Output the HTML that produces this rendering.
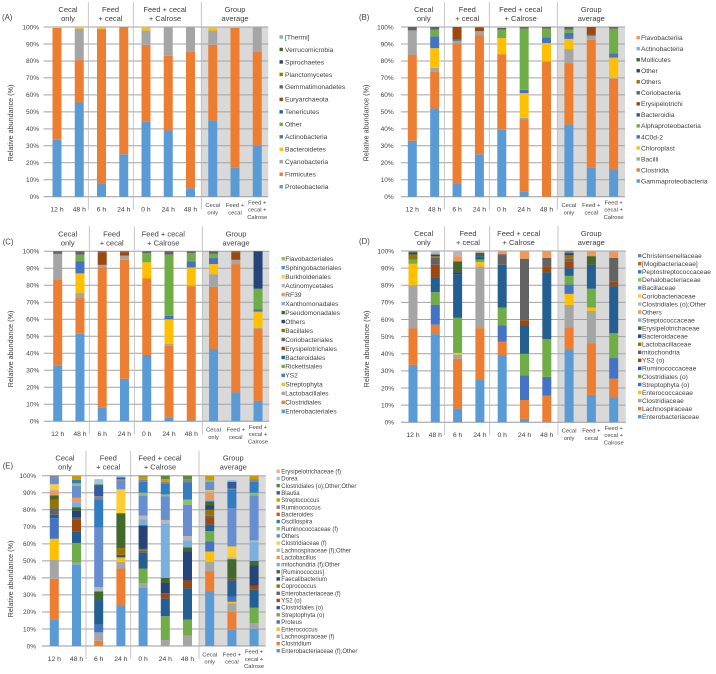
<!DOCTYPE html>
<html lang="en">
<head>
<meta charset="utf-8">
<title>Relative abundance stacked bar charts</title>
<style>
html,body{margin:0;padding:0;background:#fff;width:716px;height:674px;overflow:hidden}
svg{display:block;filter:blur(0.3px)}
text{font-family:"Liberation Sans",sans-serif;fill:#3f3f3f}
</style>
</head>
<body>
<svg id="fig" width="716" height="674" viewBox="0 0 716 674"></svg>
<script>
// ---------- shared data ----------
const categories = ["12 h","48 h","6 h","24 h","0 h","24 h","48 h"];
const avgCategories = [["Cecal","only"],["Feed +","cecal"],["Feed +","cecal +","Calrose"]];
const groupHeaders = [["Cecal","only"],["Feed","+ cecal"],["Feed + cecal","+ Calrose"],["Group","average"]];
const yTicks = [0,10,20,30,40,50,60,70,80,90,100];
const palette = ["#5B9BD5","#ED7D31","#A5A5A5","#FFC000","#4472C4","#70AD47","#255E91","#9E480E","#636363","#997300","#264478","#43682B","#7CAFDD","#F1975A","#B7B7B7","#FFCD33","#698ED0","#8CC168","#327DC2","#D26012","#848484","#CC9A00","#335AA1","#5A8A39","#A2C4E4","#F4B183"];

// ---------- panel A ----------
const seriesA = ["Proteobacteria","Firmicutes","Cyanobacteria","Bacteroidetes","Actinobacteria","Other","Tenericutes","Euryarchaeota","Gemmatimonadetes","Planctomycetes","Spirochaetes","Verrucomicrobia","[Thermi]"];
const barsA = [
 [33.5,66,0,0.5],
 [55.5,25,18.5,1],
 [8,90.5,0.5,1],
 [25,75],
 [44.5,45,8.5,2],
 [39,44,17],
 [5,80.5,14.5],
 [45,44.5,8.5,2],
 [17,82.5,0,0.5],
 [30,55.5,14.5]
];

// ---------- panel B ----------
const seriesB = ["Gammaproteobacteria","Clostridia","Bacilli","Chloroplast","4C0d-2","Alphaproteobacteria","Bacteroidia","Erysipelotrichi","Coriobacteria","Others","Other","Mollicutes","Actinobacteria","Flavobacteriia"];
const barsB = [
 [33,50.5,14.5,0,0,0,0,0,2],
 [52,21.5,2.5,11.5,7,4,0,0,1.5],
 [8,82.5,1.5,0,0,0,0.5,7.5],
 [25,70,2.5,0,0,0,0,2,0.5],
 [39.5,44.5,0,9.5,0,5,0,0,1],
 [3,42.5,1,14.5,2,36,0,0,1],
 [0,79.5,0.5,10.5,3.5,5,0,0,1],
 [42.5,36,8.5,6,3.5,2,0,0,1.5],
 [17,75.5,2.5,0,0,0,0.5,4.5],
 [16,53.5,0.5,12,2.5,14.5,0,0,1]
];

// ---------- panel C ----------
const seriesC = ["Enterobacteriales","Clostridiales","Lactobacillales","Streptophyta","YS2","Rickettsiales","Bacteroidales","Erysipelotrichales","Coriobacteriales","Bacillales","Others","Pseudomonadales","Xanthomonadales","RF39","Actinomycetales","Burkholderiales","Sphingobacteriales","Flavobacteriales"];
const barsC = [
 [33,50.5,15,0,0,0,0,0,1.5],
 [51.5,21,3,11.5,7,4,0,0,2],
 [8,82.5,1.5,0,0,0,0,7.5,0.5],
 [25,70,2.5,0,0,0,0,2,0.5],
 [39,45,0,9.5,0,5.5,0,0,1],
 [2,42.5,1,14.5,2,36,0,0,2],
 [0.5,79,0.5,10.5,3.5,5,0,0,1],
 [42.5,36.5,7.5,6,3.5,2.5,0,0,1.5],
 [17,75.5,2.5,0,0,0,0,4.5,0.5],
 [12,42.5,0.5,9.5,1.5,12,0,0,0,0,22]
];

// ---------- panel D ----------
const seriesD = ["Enterobacteriaceae","Lachnospiraceae","Clostridiaceae","Enterococcaceae","Streptophyta (o)","Clostridiales (o)","Ruminococcaceae","YS2 (o)","mitochondria","Lactobacillaceae","Bacteroidaceae","Erysipelotrichaceae","Streptococcaceae","Others","Clostridiales (o);Other","Coriobacteriaceae","Bacillaceae","Dehalobacteriaceae","Peptostreptococcaceae","[Mogibacteriaceae]","Christensenellaceae"];
const barsD = [
 [33.5,21.5,25,12.5,0,2.5,0,0,0,3,1,0.5,0,0,0,0,0,0,0,0,0.5],
 [51.5,5.5,0,0,11.5,7.5,8.5,7.5,4,1,1,0,0,0,2],
 [8,29,2.5,1,0,20.5,25.5,0,0,0,1,6.5,0,3,3],
 [25,30,36,2.5,0,1.5,2,0,0,0,0,2,0,0,1],
 [39,8,0,0,9.5,10.5,25,0,5.5,0,0.5,0,0,2],
 [2,11,0,0,14.5,12.5,16.5,3,36,0,0,0,0,4.5],
 [0.5,15,0,0,11,22,39,3.5,5,0,0,0,0,4],
 [42.5,13,13,6.5,5.5,5,4.5,4,1.5,2,1,0.5,0,0,0,0,0,0,0,0,1],
 [16,30,19,2,0,11,13.5,0,0,0,0.5,5,0,3],
 [14.5,11,0,0,12,14.5,27.5,2.5,14,0,0,0,0,4]
];

// ---------- panel E ----------
const seriesE = ["Enterobacteriaceae (f);Other","Clostridium","Lachnospiraceae (f)","Enterococcus","Proteus","Streptophyta (o)","Clostridiales (o)","YS2 (o)","Enterobacteriaceae (f)","Coprococcus","Faecalibacterium","[Ruminococcus]","mitochondria (f);Other","Lactobacillus","Lachnospiraceae (f);Other","Clostridiaceae (f)","Others","Ruminococcaceae (f)","Oscillospira","Bacteroides","Ruminococcus","Streptococcus","Blautia","Clostridiales (o);Other;Other","Dorea","Erysipelotrichaceae (f)"];
const barsE = [
 [15.5,24,11,12.5,12,0,2,0,4,5,0,2.5,0,2.5,1,3,4,0,0,0,1],
 [48,0,1,0,0,11.5,6.5,7.5,1,0,4,2,3,2.5,0,0,7,1.5,2,0,0,2.5],
 [0,3,5,0,4.5,0,14.5,0,0,0,0,5,0,0,2.5,0,35,0,16.5,0,2,0,6.5,0.5,3],
 [23.5,22,4,2.5,0,0,1.5,0,0,4,0,20.5,0,0,0,14,5,0,0,0,1,0,1,0,1],
 [34.5,0,2.5,0,0,8.5,9.5,0,1,1,13.5,0.5,3.5,0,2,0,12,1.5,6.5,0,1,2,0,0.5],
 [0,0,3.5,0,0,14,10.5,3,0,0,6,3,32,0,2,0,14,1,6.5,0,1,1.5,0,2],
 [0,0,6,0,0,9.5,18.5,4.5,0,0,17,2.5,4,0,2.5,0,18.5,3,10,0,2,0,0,2],
 [32,12,5.5,6,6,6,4,4,1,3.5,2.5,2.5,1,4,1,0.5,5,1,0,0,0,2.5],
 [9.5,10.5,5,1,3,0,9.5,1,0,0,0,11.5,0,0,1,6.5,22.5,0,11,0,0.5,0,4,0,1],
 [10,0,3.5,0,0,9,10.5,2.5,0,0,12,2.5,11,0,1,0,26.5,1.5,6.5,0,1.5,2]
];

// ---------- layout (geometry only) ----------
const panels = [
 {id:"a",label:"(A)",labelX:2,series:seriesA,bars:barsA,first:57,step:22.25,yTop:27,yBot:196.7,gridL:43.5,gridR:268.3,seps:[88.3,133.3,201.3],heads:[68,110.5,165,235],titleX:10.3,titleY:123,tickX:39,swatchX:279.5,textX:285,legTop:37,legBot:186.7,legFont:6.7},
 {id:"b",label:"(B)",labelX:359,series:seriesB,bars:barsB,first:412.3,step:22.37,yTop:27,yBot:196.7,gridL:401,gridR:625,seps:[444.3,489.3,557.3],heads:[423.7,467.3,520.7,591.3],titleX:366,titleY:123,tickX:393.7,swatchX:636.5,textX:641,legTop:37.7,legBot:181,legFont:6.7},
 {id:"c",label:"(C)",labelX:2.7,series:seriesC,bars:barsC,first:57.7,step:22.26,yTop:251.3,yBot:421.3,gridL:44,gridR:269.3,seps:[89.3,134.3,202.3],heads:[67.7,111.7,163.3,236],titleX:10.7,titleY:349,tickX:39.3,swatchX:281.5,textX:285.3,legTop:258.7,legBot:411.3,legFont:6.6},
 {id:"d",label:"(D)",labelX:359,series:seriesD,bars:barsD,first:413,step:22.3,yTop:251,yBot:422.3,gridL:401,gridR:625.7,seps:[444.7,489.7,558],heads:[423.7,468,518.7,591.3],titleX:366.3,titleY:349,tickX:394,swatchX:638,textX:642,legTop:255.7,legBot:416.7,legFont:6.6},
 {id:"e",label:"(E)",labelX:2.7,series:seriesE,bars:barsE,first:54.3,step:22.2,yTop:475.7,yBot:646,gridL:42,gridR:265.7,seps:[86,130.7,199],heads:[65,108.3,160,233.3],titleX:10.7,titleY:579,tickX:36,swatchX:276.5,textX:281.3,legTop:471.3,legBot:650.7,legFont:6}
];

const NS = "http://www.w3.org/2000/svg";
const svg = document.getElementById("fig");
function mk(tag, attrs, parent, txt){
  const n = document.createElementNS(NS, tag);
  for(const k in attrs) n.setAttribute(k, attrs[k]);
  if(txt !== undefined) n.textContent = txt;
  parent.appendChild(n);
  return n;
}
function slug(s){return String(s).toLowerCase().replace(/[^a-z0-9]+/g,"-").replace(/^-|-$/g,"");}

panels.forEach(function(p){
  const g = mk("g",{},svg);
  
  

  const yScale = function(v){return p.yBot - (p.yBot - p.yTop) * v / 100;};
  const xScale = function(i){return p.first + p.step * i;};
  const barW = 9;

  // group average background
  const bg = mk("rect",{x:p.seps[2],y:p.yTop,width:p.gridR-p.seps[2],height:p.yBot-p.yTop,fill:"#D9D9D9"},g);
  
  

  // gridlines and y ticks
  yTicks.forEach(function(t){
    const gl = mk("line",{x1:p.gridL,x2:p.gridR,y1:yScale(t),y2:yScale(t),stroke:t===0?"#9a9a9a":"#a3a3a3","stroke-width":1},g);
    
    
    const tl = mk("text",{x:p.tickX,y:yScale(t)+2.3,"text-anchor":"end","font-size":6.5},g,t+"%");
    
    
  });

  // stacked bars
  p.bars.forEach(function(row,i){
    let cum = 0;
    row.forEach(function(v,s){
      if(!v) return;
      const top = yScale(cum + v), bot = yScale(cum);
      const r = mk("rect",{x:xScale(i)-barW/2,y:top,width:barW,height:bot-top,fill:palette[s]},g);
      
      
      cum += v;
    });
  });

  // x tick labels
  categories.forEach(function(c,i){
    const t = mk("text",{x:xScale(i),y:p.yBot+14.8,"text-anchor":"middle","font-size":6.8},g,c);
    
    
  });
  avgCategories.forEach(function(lines,j){
    const start = lines.length === 3 ? p.yBot+7.6 : p.yBot+10.4;
    lines.forEach(function(line,k){
      const t = mk("text",{x:xScale(7+j),y:start+k*7.3,"text-anchor":"middle","font-size":5.8},g,line);
      
      
    });
  });

  // separators
  p.seps.forEach(function(x){
    const l = mk("line",{x1:x,x2:x,y1:p.yTop-25,y2:p.yBot+13,stroke:"#b8b8b8","stroke-width":0.8},g);
    
    
  });

  // group headers
  groupHeaders.forEach(function(lines,j){
    lines.forEach(function(line,k){
      const t = mk("text",{x:p.heads[j],y:p.yTop-15+k*9,"text-anchor":"middle","font-size":7.5},g,line);
      
      
    });
  });

  // panel label
  const pl = mk("text",{x:p.labelX,y:p.yTop-7,"font-size":7.8},g,p.label);
  
  

  // y axis title
  const yt = mk("text",{x:0,y:0,"text-anchor":"middle","font-size":7.2,transform:"translate("+(p.titleX+2.5)+" "+p.titleY+") rotate(-90)"},g,"Relative abundance (%)");
  
  

  // legend
  const n = p.series.length;
  const spacing = (p.legBot - p.legTop) / (n - 1);
  p.series.forEach(function(name,s){
    const y = p.legBot - s * spacing;
    const sw = mk("rect",{x:p.swatchX,y:y-1.7,width:3.4,height:3.4,fill:palette[s]},g);
    
    
    const tx = mk("text",{x:p.textX,y:y+p.legFont*0.35,"font-size":p.legFont},g,name);
    
    
  });
});
</script>
</body>
</html>
